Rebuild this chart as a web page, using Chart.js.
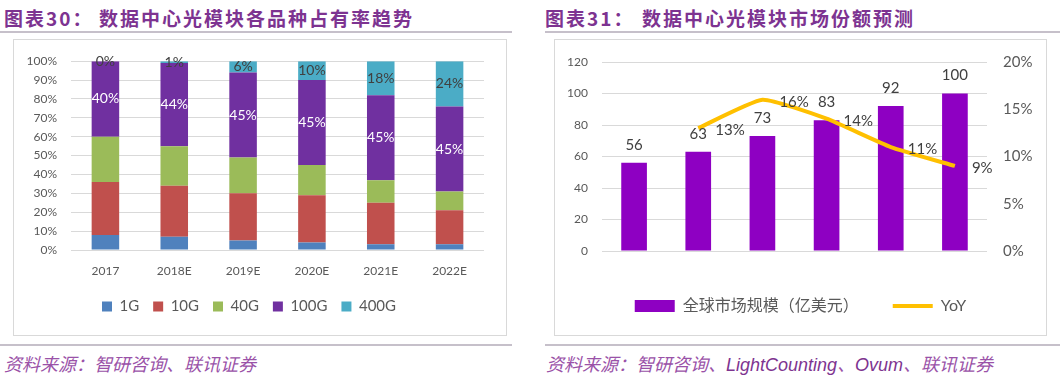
<!DOCTYPE html>
<html>
<head>
<meta charset="utf-8">
<script src="https://cdn.jsdelivr.net/npm/chart.js@4.4.0/dist/chart.umd.min.js"></script>
<style>
body { margin: 0; width: 1060px; height: 376px; background: #fff; position: relative; overflow: hidden; font-family: "Noto Sans CJK SC", sans-serif; }
.title { position: absolute; top: 5px; font-size: 19px; font-weight: bold; color: #7d3391; letter-spacing: 2px; white-space: nowrap; line-height: 26px; }
.rule { position: absolute; height: 2px; background: #c6c0ca; }
.box { position: absolute; border: 1px solid #d9d9d9; }
.box canvas { display: block; }
.src { position: absolute; top: 351px; font-size: 18px; font-style: italic; color: #9a52a8; white-space: nowrap; line-height: 24px; }
.src b { font-family: "Liberation Sans", sans-serif; color: #7e3490; font-weight: normal; }
</style>
</head>
<body>
<div class="title" style="left:4px">图表30：</div>
<div class="title" style="left:99px">数据中心光模块各品种占有率趋势</div>
<div class="title" style="left:545px">图表31：</div>
<div class="title" style="left:642px">数据中心光模块市场份额预测</div>
<div class="rule" style="left:0;top:31px;width:512px"></div>
<div class="rule" style="left:545px;top:31px;width:515px"></div>

<div class="box" style="left:13px;top:39px"><canvas id="shareChart" width="492" height="295"></canvas></div>
<div class="box" style="left:554px;top:39px"><canvas id="marketChart" width="491" height="295"></canvas></div>

<div class="rule" style="left:0;top:344px;width:512px"></div>
<div class="rule" style="left:545px;top:344px;width:515px"></div>
<div class="src" style="left:4px">资料来源：智研咨询、联讯证券</div>
<div class="src" style="left:546px">资料来源：智研咨询、<b>LightCounting</b>、<b>Ovum</b>、联讯证券</div>

<script>
const years = ['2017', '2018E', '2019E', '2020E', '2021E', '2022E'];

// 图表30 各品种占比（%）
const share1G = [8, 7, 5, 4, 3, 3];
const share10G = [28, 27, 25, 25, 22, 18];
const share40G = [24, 21, 19, 16, 12, 10];
const share100G = [40, 44, 45, 45, 45, 45];
const share400G = [0, 1, 6, 10, 18, 24];

// 图表31 市场规模（亿美元）和同比（%）
const marketSize = [56, 63, 73, 83, 92, 100];
const yoy = [null, 13, 16, 14, 11, 9];

Chart.defaults.font.family = 'Lato, "Noto Sans CJK SC", sans-serif';
Chart.defaults.color = '#595959';
Chart.defaults.animation = false;

const gridColor = '#d9d9d9';

// draws the value labels, style is read from dataset.labelStyle
const valueLabels = {
    id: 'valueLabels',
    afterDatasetsDraw: (chart) => {
        const ctx = chart.ctx;
        chart.data.datasets.forEach((ds, i) => {
            const cfg = ds.labelStyle;
            if (!cfg) return;
            chart.getDatasetMeta(i).data.forEach((el, j) => {
                const v = ds.data[j];
                if (v === null || v === undefined) return;
                let x = el.x, y = el.y;
                ctx.save();
                ctx.font = cfg.font;
                ctx.fillStyle = cfg.color;
                ctx.textBaseline = 'middle';
                ctx.textAlign = 'center';
                if (cfg.pos === 'center') y = (el.y + el.base) / 2;
                else if (cfg.pos === 'top') y = el.y - cfg.offset;
                else if (cfg.pos === 'right') {
                    ctx.textAlign = 'left';
                    x = el.x + cfg.offset;
                    y = el.y + 2;
                }
                ctx.fillText(v + cfg.suffix, x, y);
                ctx.restore();
            });
        });
    }
};

const shareSeries = [
    { label: '1G', data: share1G, color: '#4f81bd' },
    { label: '10G', data: share10G, color: '#c0504d' },
    { label: '40G', data: share40G, color: '#9bbb59' },
    { label: '100G', data: share100G, color: '#7030a0',
      labelStyle: { pos: 'center', font: '14px Lato', color: '#ffffff', suffix: '%' } },
    { label: '400G', data: share400G, color: '#4bacc6',
      labelStyle: { pos: 'center', font: '14px Lato', color: '#404040', suffix: '%' } }
];

new Chart(document.getElementById('shareChart'), {
    type: 'bar',
    data: {
        labels: years,
        datasets: shareSeries.map(s => ({
            label: s.label,
            data: s.data,
            backgroundColor: s.color,
            borderWidth: 0,
            barPercentage: 0.4,
            categoryPercentage: 1,
            labelStyle: s.labelStyle
        }))
    },
    options: {
        responsive: false,
        layout: { padding: { top: 21, right: 22, bottom: 11, left: 0 } },
        plugins: {
            tooltip: { enabled: false },
            legend: {
                position: 'bottom',
                labels: { boxWidth: 10, boxHeight: 10, padding: 14, font: { size: 15 }, color: '#595959' }
            }
        },
        scales: {
            x: {
                stacked: true,
                grid: { display: false },
                border: { display: false },
                ticks: { font: { size: 12 }, padding: 6 },
                afterFit: (scale) => { scale.height = 35; }
            },
            y: {
                stacked: true,
                min: 0,
                max: 100,
                grid: { color: gridColor, drawTicks: false },
                border: { display: false },
                ticks: { stepSize: 10, font: { size: 12 }, padding: 14, callback: v => v + '%' },
                afterFit: (scale) => { scale.width = 57; }
            }
        }
    },
    plugins: [valueLabels]
});

new Chart(document.getElementById('marketChart'), {
    type: 'bar',
    data: {
        labels: years,
        datasets: [
            {
                label: '全球市场规模（亿美元）',
                data: marketSize,
                backgroundColor: '#8e00c2',
                borderWidth: 0,
                barPercentage: 0.4,
                categoryPercentage: 1,
                order: 1,
                yAxisID: 'y',
                labelStyle: { pos: 'top', offset: 18, font: '15px Lato', color: '#404040', suffix: '' }
            },
            {
                type: 'line',
                label: 'YoY',
                data: yoy,
                borderColor: '#ffc000',
                backgroundColor: '#ffc000',
                borderWidth: 4,
                pointRadius: 0,
                tension: 0.15,
                order: 0,
                yAxisID: 'y1',
                labelStyle: { pos: 'right', offset: 17, font: '15px Lato', color: '#404040', suffix: '%' }
            }
        ]
    },
    options: {
        responsive: false,
        layout: { padding: { top: 22, right: 0, bottom: 11, left: 0 } },
        plugins: {
            tooltip: { enabled: false },
            legend: {
                position: 'bottom',
                labels: {
                    usePointStyle: true,
                    pointStyleWidth: 40,
                    boxHeight: 12,
                    padding: 34,
                    font: { size: 16 },
                    color: '#595959',
                    sort: (a, b) => a.datasetIndex - b.datasetIndex,
                    generateLabels: (chart) => {
                        const items = Chart.defaults.plugins.legend.labels.generateLabels(chart);
                        items.forEach(item => {
                            item.pointStyle = item.datasetIndex === 0 ? 'rect' : 'line';
                        });
                        return items;
                    }
                }
            }
        },
        scales: {
            x: {
                grid: { display: false },
                border: { display: false },
                ticks: { font: { size: 12 }, padding: 6 },
                afterFit: (scale) => { scale.height = 13; }
            },
            y: {
                position: 'left',
                min: 0,
                max: 120,
                grid: { color: gridColor, drawTicks: false },
                border: { display: false },
                ticks: { stepSize: 20, font: { size: 12 }, padding: 14 },
                afterFit: (scale) => { scale.width = 47; }
            },
            y1: {
                position: 'right',
                min: 0,
                max: 20,
                grid: { display: false },
                border: { display: false },
                ticks: { stepSize: 5, font: { size: 15 }, padding: 8, callback: v => v + '%' },
                afterFit: (scale) => { scale.width = 59; }
            }
        }
    },
    plugins: [valueLabels]
});
</script>
</body>
</html>
